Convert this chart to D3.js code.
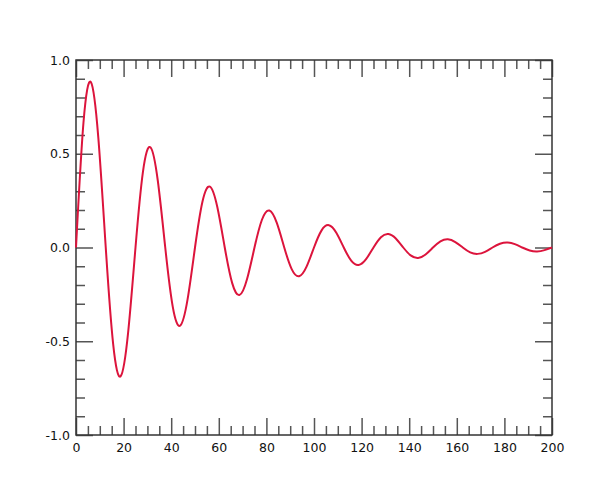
<!DOCTYPE html>
<html>
<head>
<meta charset="utf-8">
<script src="https://cdn.jsdelivr.net/npm/d3@7"></script>
<style>
  body { margin: 0; background: #fff; }
  .tick text { font-family: 'DejaVu Sans', sans-serif; font-size: 12.5px; fill: #111; }
  .tick line { stroke: #555; stroke-width: 1.5; }
</style>
</head>
<body>
<div id="chart"></div>
<script>
const width = 600;
const height = 500;
const margin = { top: 60, right: 48, bottom: 65, left: 76 };

// valores (x, y)
const xs = [0, 3.125, 6.25, 9.375, 12.5, 15.625, 18.75, 21.875, 25,
  28.125, 31.25, 34.375, 37.5, 40.625, 43.75, 46.875, 50,
  53.125, 56.25, 59.375, 62.5, 65.625, 68.75, 71.875, 75,
  78.125, 81.25, 84.375, 87.5, 90.625, 93.75, 96.875, 100,
  103.125, 106.25, 109.375, 112.5, 115.625, 118.75, 121.875, 125,
  128.125, 131.25, 134.375, 137.5, 140.625, 143.75, 146.875, 150,
  153.125, 156.25, 159.375, 162.5, 165.625, 168.75, 171.875, 175,
  178.125, 181.25, 184.375, 187.5, 190.625, 193.75, 196.875, 200];
const ys = [0, 0.664, 0.882, 0.586, 0, -0.517, -0.687, -0.457, 0,
  0.403, 0.535, 0.356, 0, -0.314, -0.417, -0.277, 0,
  0.244, 0.325, 0.216, 0, -0.190, -0.253, -0.168, 0,
  0.148, 0.197, 0.131, 0, -0.115, -0.153, -0.102, 0,
  0.090, 0.119, 0.079, 0, -0.070, -0.093, -0.062, 0,
  0.055, 0.072, 0.048, 0, -0.042, -0.056, -0.037, 0,
  0.033, 0.044, 0.029, 0, -0.026, -0.034, -0.023, 0,
  0.020, 0.027, 0.018, 0, -0.016, -0.021, -0.014, 0];

const xMajor = [0, 20, 40, 60, 80, 100, 120, 140, 160, 180, 200];
const yMajor = [-1.0, -0.5, 0.0, 0.5, 1.0];
const xMinor = [5, 10, 15, 25, 30, 35, 45, 50, 55, 65, 70, 75, 85, 90, 95,
  105, 110, 115, 125, 130, 135, 145, 150, 155, 165, 170, 175, 185, 190, 195];
const yMinor = [-0.9, -0.8, -0.7, -0.6, -0.4, -0.3, -0.2, -0.1, 0.1, 0.2, 0.3, 0.4, 0.6, 0.7, 0.8, 0.9];

const data = xs.map((x, i) => ({ x: x, y: ys[i] }));

const svg = d3.select('#chart')
  .append('svg')
  .attr('width', width)
  .attr('height', height);

const innerW = width - margin.left - margin.right;
const innerH = height - margin.top - margin.bottom;

const g = svg.append('g')
  .attr('transform', `translate(${margin.left}, ${margin.top})`);

const xScale = d3.scaleLinear().domain([0, 200]).range([0, innerW]);
const yScale = d3.scaleLinear().domain([-1, 1]).range([innerH, 0]);

const major = 17;
const minor = 9;

// guion normal en vez del signo menos unicode
const fmtY = d => d.toFixed(1);

// ejes con ticks hacia dentro en los cuatro lados
function addAxis(axis, tx, ty, labels) {
  const a = g.append('g')
    .attr('transform', `translate(${tx}, ${ty})`)
    .call(axis);
  a.select('.domain').remove();
  if (!labels) a.selectAll('text').remove();
  return a;
}

addAxis(d3.axisBottom(xScale).tickValues(xMajor).tickSize(-major).tickPadding(6).tickFormat(d => String(d)), 0, innerH, true)
  .selectAll('text').attr('dy', '0.9em');
addAxis(d3.axisBottom(xScale).tickValues(xMinor).tickSize(-minor), 0, innerH, false);
addAxis(d3.axisTop(xScale).tickValues(xMajor).tickSize(-major), 0, 0, false);
addAxis(d3.axisTop(xScale).tickValues(xMinor).tickSize(-minor), 0, 0, false);

addAxis(d3.axisLeft(yScale).tickValues(yMajor).tickSize(-major).tickPadding(6).tickFormat(fmtY), 0, 0, true);
addAxis(d3.axisLeft(yScale).tickValues(yMinor).tickSize(-minor), 0, 0, false);
addAxis(d3.axisRight(yScale).tickValues(yMajor).tickSize(-major), innerW, 0, false);
addAxis(d3.axisRight(yScale).tickValues(yMinor).tickSize(-minor), innerW, 0, false);

// marco
g.append('rect')
  .attr('x', 0)
  .attr('y', 0)
  .attr('width', innerW)
  .attr('height', innerH)
  .attr('fill', 'none')
  .attr('stroke', '#333')
  .attr('stroke-width', 1.5);

// curva
const line = d3.line()
  .x(d => xScale(d.x))
  .y(d => yScale(d.y))
  .curve(d3.curveNatural);

g.append('path')
  .datum(data)
  .attr('fill', 'none')
  .attr('stroke', '#dc143c')
  .attr('stroke-width', 2)
  .attr('d', line);
</script>
</body>
</html>
